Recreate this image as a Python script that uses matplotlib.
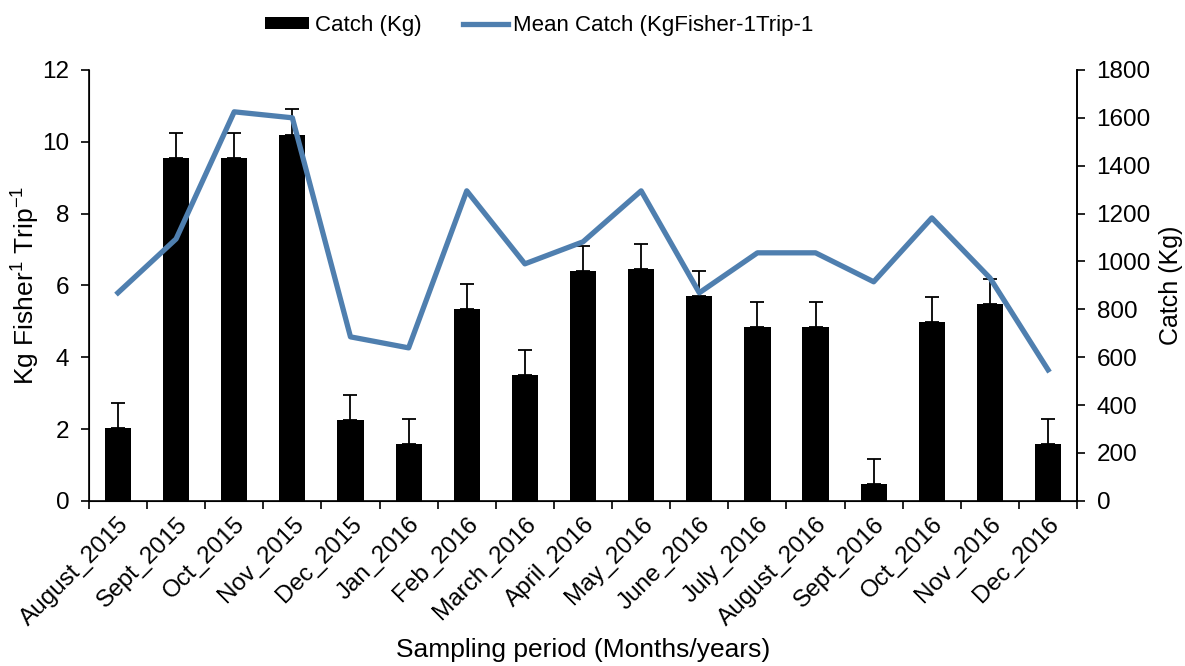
import numpy as np
import matplotlib
matplotlib.use('Agg')
import matplotlib.pyplot as plt

plt.rcParams['font.family'] = ['Liberation Sans', 'DejaVu Sans']
plt.rcParams['mathtext.fontset'] = 'custom'
plt.rcParams['mathtext.rm'] = 'Liberation Sans'
plt.rcParams['mathtext.it'] = 'Liberation Sans'

months = ['August_2015', 'Sept_2015', 'Oct_2015', 'Nov_2015', 'Dec_2015', 'Jan_2016',
          'Feb_2016', 'March_2016', 'April_2016', 'May_2016', 'June_2016', 'July_2016',
          'August_2016', 'Sept_2016', 'Oct_2016', 'Nov_2016', 'Dec_2016']
kg_per_trip = [2.03, 9.55, 9.55, 10.2, 2.26, 1.59, 5.35, 3.51, 6.41, 6.46, 5.71, 4.85,
               4.85, 0.47, 4.99, 5.49, 1.59]
kg_err = [0.7] * 17
catch_kg = [869, 1094, 1625, 1600, 685, 639, 1295, 990, 1082, 1295, 869, 1036,
            1036, 915, 1182, 931, 547]

x = np.arange(len(months))

fig, ax = plt.subplots(figsize=(11.85, 6.66), dpi=100)
fig.subplots_adjust(left=0.075, right=0.909, top=0.895, bottom=0.248)

bars = ax.bar(x, kg_per_trip, width=0.45, color='black', label='Catch (Kg)',
              yerr=[np.zeros(len(kg_err)), kg_err], ecolor='black',
              error_kw=dict(elinewidth=1.3, capsize=5, capthick=1.3))
ax.set_ylim(0, 12)
ax.set_yticks(range(0, 13, 2))
ax.set_xlim(-0.5, len(months) - 0.5)
ax.set_xticks(x)
ax.set_xticklabels(months, rotation=45, ha='right', rotation_mode='anchor')
ax.set_xticks(np.arange(-0.5, len(months), 1), minor=True)
ax.tick_params(axis='x', which='major', length=0, pad=9)
ax.tick_params(axis='x', which='minor', length=6, width=1.2)
ax.tick_params(axis='y', length=6, width=1.2, pad=8)
ax.tick_params(labelsize=17.5)
ax.set_ylabel('Kg Fisher$^{1}$ Trip$^{-1}$', fontsize=19, labelpad=0)
ax.set_xlabel('Sampling period (Months/years)', fontsize=19, labelpad=6)
ax.spines['top'].set_visible(False)
for s in ['left', 'bottom', 'right']:
    ax.spines[s].set_linewidth(1.2)

ax2 = ax.twinx()
line, = ax2.plot(x, catch_kg, color='#4f7faf', linewidth=3.8,
                 label='Mean Catch (KgFisher-1Trip-1')
ax2.set_ylim(0, 1800)
ax2.set_yticks(range(0, 1801, 200))
ax2.tick_params(axis='y', length=6, width=1.2, labelsize=17.5, pad=8)
ax2.set_ylabel('Catch (Kg)', fontsize=18, labelpad=6)
ax2.spines['top'].set_visible(False)
ax2.spines['right'].set_linewidth(1.2)

fig.legend([bars, line], ['Catch (Kg)', 'Mean Catch (KgFisher-1Trip-1'],
           loc='upper center', bbox_to_anchor=(0.455, 1.008), ncol=2, frameon=False,
           fontsize=16, handlelength=2.0, handleheight=0.45, handletextpad=0.25,
           columnspacing=1.9)

fig.savefig('out.png', dpi=100)
